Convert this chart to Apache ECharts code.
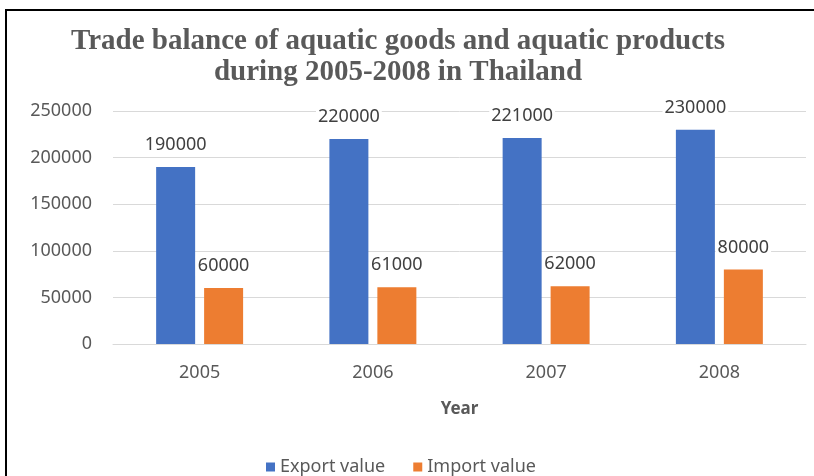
<!DOCTYPE html>
<html>
<head>
<meta charset="utf-8">
<title>Trade balance of aquatic goods and aquatic products</title>
<script src="https://cdn.jsdelivr.net/npm/echarts@6/dist/echarts.min.js"></script>
<style>
  html, body { margin: 0; padding: 0; background: #fff; }
  #chart { width: 814px; height: 476px; }
</style>
</head>
<body>
<div id="chart"></div>
<script>
// Years on the category axis
const years = ['2005', '2006', '2007', '2008'];
// Export and import values per year
const exportValues = [190000, 220000, 221000, 230000];
const importValues = [60000, 61000, 62000, 80000];
// Value axis range and step
const yMin = 0;
const yMax = 250000;
const yStep = 50000;

const textGray = '#595959';
const labelGray = '#404040';
const sansFont = '"Noto Sans", "Open Sans", sans-serif';

const valueLabel = {
  show: true,
  position: 'top',
  distance: 12,
  color: labelGray,
  fontFamily: sansFont,
  fontSize: 18,
  backgroundColor: '#ffffff',
  padding: [1, 2]
};

const chart = echarts.init(document.getElementById('chart'));
chart.setOption({
  animation: false,
  backgroundColor: '#ffffff',
  graphic: [{
    type: 'rect',
    shape: { x: 6, y: 10, width: 900, height: 600 },
    style: { fill: 'none', stroke: '#000000', lineWidth: 2 },
    silent: true
  }],
  title: {
    text: 'Trade balance of aquatic goods and aquatic products\nduring 2005-2008 in Thailand',
    left: 393,
    top: 21,
    textAlign: 'center',
    textStyle: {
      fontFamily: '"Liberation Serif", "Times New Roman", serif',
      fontWeight: 'bold',
      fontSize: 29,
      lineHeight: 31,
      color: textGray
    }
  },
  legend: {
    left: 261,
    top: 453,
    itemWidth: 9,
    itemHeight: 9,
    itemGap: 28,
    icon: 'rect',
    textStyle: { color: textGray, fontFamily: sansFont, fontSize: 18 },
    data: ['Export value', 'Import value']
  },
  grid: { left: 113, right: 8, top: 111, bottom: 132, containLabel: false },
  xAxis: {
    type: 'category',
    data: years,
    name: 'Year',
    nameLocation: 'middle',
    nameGap: 57,
    nameTextStyle: { color: textGray, fontFamily: sansFont, fontSize: 17, fontWeight: 'bold' },
    axisLine: { lineStyle: { color: '#d9d9d9', width: 1 } },
    axisTick: { show: false },
    axisLabel: { color: textGray, fontFamily: sansFont, fontSize: 18, margin: 20 }
  },
  yAxis: {
    type: 'value',
    min: yMin,
    max: yMax,
    interval: yStep,
    axisLine: { show: false },
    axisTick: { show: false },
    splitLine: { lineStyle: { color: '#d9d9d9', width: 1 } },
    axisLabel: {
      color: textGray,
      fontFamily: sansFont,
      fontSize: 18,
      margin: 21,
      formatter: (v) => String(v)
    }
  },
  series: [
    {
      name: 'Export value',
      type: 'bar',
      data: exportValues,
      barWidth: 39,
      barGap: '23%',
      itemStyle: { color: '#4472C4' },
      label: valueLabel
    },
    {
      name: 'Import value',
      type: 'bar',
      data: importValues,
      barWidth: 39,
      itemStyle: { color: '#ED7D31' },
      label: valueLabel
    }
  ]
});
</script>
</body>
</html>
